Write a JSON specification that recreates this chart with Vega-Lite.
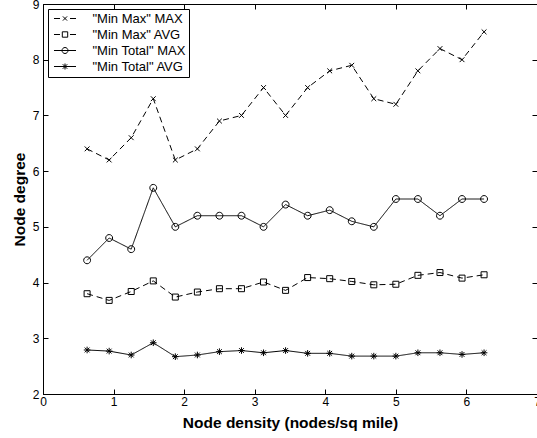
{
  "$schema": "https://vega.github.io/schema/vega-lite/v6.json",
  "width": 494,
  "height": 390,
  "autosize": {"type": "none"},
  "padding": {"left": 43, "top": 4, "right": 0, "bottom": 44},
  "background": "white",
  "config": {
    "font": "Liberation Sans",
    "view": {"stroke": "black", "strokeWidth": 1},
    "axis": {
      "grid": false,
      "domainColor": "black",
      "domainWidth": 1,
      "tickColor": "black",
      "tickWidth": 1,
      "tickSize": -5,
      "labelColor": "black",
      "labelFont": "Liberation Sans",
      "labelFontSize": 12,
      "titleColor": "black",
      "titleFont": "Liberation Sans",
      "titleFontSize": 15.5,
      "titleFontWeight": "bold"
    }
  },
  "data": {
    "values": [
      {"series": "\"Min Max\" MAX", "density": 0.625, "degree": 6.4},
      {"series": "\"Min Max\" MAX", "density": 0.9375, "degree": 6.2},
      {"series": "\"Min Max\" MAX", "density": 1.25, "degree": 6.6},
      {"series": "\"Min Max\" MAX", "density": 1.5625, "degree": 7.3},
      {"series": "\"Min Max\" MAX", "density": 1.875, "degree": 6.2},
      {"series": "\"Min Max\" MAX", "density": 2.1875, "degree": 6.4},
      {"series": "\"Min Max\" MAX", "density": 2.5, "degree": 6.9},
      {"series": "\"Min Max\" MAX", "density": 2.8125, "degree": 7.0},
      {"series": "\"Min Max\" MAX", "density": 3.125, "degree": 7.5},
      {"series": "\"Min Max\" MAX", "density": 3.4375, "degree": 7.0},
      {"series": "\"Min Max\" MAX", "density": 3.75, "degree": 7.5},
      {"series": "\"Min Max\" MAX", "density": 4.0625, "degree": 7.8},
      {"series": "\"Min Max\" MAX", "density": 4.375, "degree": 7.9},
      {"series": "\"Min Max\" MAX", "density": 4.6875, "degree": 7.3},
      {"series": "\"Min Max\" MAX", "density": 5.0, "degree": 7.2},
      {"series": "\"Min Max\" MAX", "density": 5.3125, "degree": 7.8},
      {"series": "\"Min Max\" MAX", "density": 5.625, "degree": 8.2},
      {"series": "\"Min Max\" MAX", "density": 5.9375, "degree": 8.0},
      {"series": "\"Min Max\" MAX", "density": 6.25, "degree": 8.5},
      {"series": "\"Min Max\" AVG", "density": 0.625, "degree": 3.8},
      {"series": "\"Min Max\" AVG", "density": 0.9375, "degree": 3.68},
      {"series": "\"Min Max\" AVG", "density": 1.25, "degree": 3.84},
      {"series": "\"Min Max\" AVG", "density": 1.5625, "degree": 4.03},
      {"series": "\"Min Max\" AVG", "density": 1.875, "degree": 3.74},
      {"series": "\"Min Max\" AVG", "density": 2.1875, "degree": 3.83},
      {"series": "\"Min Max\" AVG", "density": 2.5, "degree": 3.89},
      {"series": "\"Min Max\" AVG", "density": 2.8125, "degree": 3.89},
      {"series": "\"Min Max\" AVG", "density": 3.125, "degree": 4.01},
      {"series": "\"Min Max\" AVG", "density": 3.4375, "degree": 3.86},
      {"series": "\"Min Max\" AVG", "density": 3.75, "degree": 4.09},
      {"series": "\"Min Max\" AVG", "density": 4.0625, "degree": 4.07},
      {"series": "\"Min Max\" AVG", "density": 4.375, "degree": 4.02},
      {"series": "\"Min Max\" AVG", "density": 4.6875, "degree": 3.96},
      {"series": "\"Min Max\" AVG", "density": 5.0, "degree": 3.97},
      {"series": "\"Min Max\" AVG", "density": 5.3125, "degree": 4.13},
      {"series": "\"Min Max\" AVG", "density": 5.625, "degree": 4.18},
      {"series": "\"Min Max\" AVG", "density": 5.9375, "degree": 4.08},
      {"series": "\"Min Max\" AVG", "density": 6.25, "degree": 4.14},
      {"series": "\"Min Total\" MAX", "density": 0.625, "degree": 4.4},
      {"series": "\"Min Total\" MAX", "density": 0.9375, "degree": 4.8},
      {"series": "\"Min Total\" MAX", "density": 1.25, "degree": 4.6},
      {"series": "\"Min Total\" MAX", "density": 1.5625, "degree": 5.7},
      {"series": "\"Min Total\" MAX", "density": 1.875, "degree": 5.0},
      {"series": "\"Min Total\" MAX", "density": 2.1875, "degree": 5.2},
      {"series": "\"Min Total\" MAX", "density": 2.5, "degree": 5.2},
      {"series": "\"Min Total\" MAX", "density": 2.8125, "degree": 5.2},
      {"series": "\"Min Total\" MAX", "density": 3.125, "degree": 5.0},
      {"series": "\"Min Total\" MAX", "density": 3.4375, "degree": 5.4},
      {"series": "\"Min Total\" MAX", "density": 3.75, "degree": 5.2},
      {"series": "\"Min Total\" MAX", "density": 4.0625, "degree": 5.3},
      {"series": "\"Min Total\" MAX", "density": 4.375, "degree": 5.1},
      {"series": "\"Min Total\" MAX", "density": 4.6875, "degree": 5.0},
      {"series": "\"Min Total\" MAX", "density": 5.0, "degree": 5.5},
      {"series": "\"Min Total\" MAX", "density": 5.3125, "degree": 5.5},
      {"series": "\"Min Total\" MAX", "density": 5.625, "degree": 5.2},
      {"series": "\"Min Total\" MAX", "density": 5.9375, "degree": 5.5},
      {"series": "\"Min Total\" MAX", "density": 6.25, "degree": 5.5},
      {"series": "\"Min Total\" AVG", "density": 0.625, "degree": 2.79},
      {"series": "\"Min Total\" AVG", "density": 0.9375, "degree": 2.77},
      {"series": "\"Min Total\" AVG", "density": 1.25, "degree": 2.7},
      {"series": "\"Min Total\" AVG", "density": 1.5625, "degree": 2.92},
      {"series": "\"Min Total\" AVG", "density": 1.875, "degree": 2.67},
      {"series": "\"Min Total\" AVG", "density": 2.1875, "degree": 2.7},
      {"series": "\"Min Total\" AVG", "density": 2.5, "degree": 2.76},
      {"series": "\"Min Total\" AVG", "density": 2.8125, "degree": 2.78},
      {"series": "\"Min Total\" AVG", "density": 3.125, "degree": 2.74},
      {"series": "\"Min Total\" AVG", "density": 3.4375, "degree": 2.78},
      {"series": "\"Min Total\" AVG", "density": 3.75, "degree": 2.73},
      {"series": "\"Min Total\" AVG", "density": 4.0625, "degree": 2.73},
      {"series": "\"Min Total\" AVG", "density": 4.375, "degree": 2.68},
      {"series": "\"Min Total\" AVG", "density": 4.6875, "degree": 2.68},
      {"series": "\"Min Total\" AVG", "density": 5.0, "degree": 2.68},
      {"series": "\"Min Total\" AVG", "density": 5.3125, "degree": 2.74},
      {"series": "\"Min Total\" AVG", "density": 5.625, "degree": 2.74},
      {"series": "\"Min Total\" AVG", "density": 5.9375, "degree": 2.71},
      {"series": "\"Min Total\" AVG", "density": 6.25, "degree": 2.74}
    ]
  },
  "layer": [
    {
      "mark": {"type": "line", "color": "black", "strokeWidth": 1},
      "encoding": {
        "x": {
          "field": "density", "type": "quantitative",
          "scale": {"domain": [0, 7], "nice": false, "zero": false},
          "axis": {"orient": "bottom", "values": [0, 1, 2, 3, 4, 5, 6, 7], "title": "Node density (nodes/sq mile)", "labelPadding": 7, "titlePadding": 8, "labelFlush": false}
        },
        "y": {
          "field": "degree", "type": "quantitative",
          "scale": {"domain": [2, 9], "nice": false, "zero": false},
          "axis": {"orient": "left", "values": [2, 3, 4, 5, 6, 7, 8, 9], "title": "Node degree", "labelPadding": 9, "titlePadding": 5, "labelFlush": false}
        },
        "strokeDash": {
          "field": "series", "type": "nominal",
          "scale": {"domain": ["\"Min Max\" MAX", "\"Min Max\" AVG", "\"Min Total\" MAX", "\"Min Total\" AVG"], "range": [[6, 4], [6, 4], [1, 0], [1, 0]]},
          "legend": null
        }
      }
    },
    {
      "mark": {"type": "point", "filled": false, "stroke": "black", "strokeWidth": 1, "size": 36, "opacity": 1},
      "encoding": {
        "x": {
          "field": "density", "type": "quantitative",
          "scale": {"domain": [0, 7], "nice": false, "zero": false},
          "axis": {"orient": "top", "values": [0, 1, 2, 3, 4, 5, 6, 7], "labels": false, "title": null, "domain": false}
        },
        "y": {
          "field": "degree", "type": "quantitative",
          "scale": {"domain": [2, 9], "nice": false, "zero": false},
          "axis": {"orient": "right", "values": [2, 3, 4, 5, 6, 7, 8, 9], "labels": false, "title": null, "domain": false}
        },
        "shape": {
          "field": "series", "type": "nominal",
          "scale": {
            "domain": ["\"Min Max\" MAX", "\"Min Max\" AVG", "\"Min Total\" MAX", "\"Min Total\" AVG"],
            "range": [
              "M-0.8,-0.8L0.8,0.8M-0.8,0.8L0.8,-0.8",
              "M-1,-1L1,-1L1,1L-1,1Z",
              "M1.15,0A1.15,1.15,0,1,1,-1.15,0A1.15,1.15,0,1,1,1.15,0Z",
              "M0,-1.1L0,1.1M-1.1,0L1.1,0M-0.8,-0.8L0.8,0.8M-0.8,0.8L0.8,-0.8"
            ]
          },
          "legend": null
        }
      }
    },
    {
      "transform": [{"filter": "datum.degree > 100"}],
      "mark": {"type": "point", "filled": false, "stroke": "black", "strokeWidth": 1, "size": 36},
      "encoding": {
        "x": {"field": "density", "type": "quantitative", "scale": {"domain": [0, 7], "nice": false, "zero": false}, "axis": null},
        "y": {"field": "degree", "type": "quantitative", "scale": {"domain": [2, 9], "nice": false, "zero": false}, "axis": null},
        "shape": {
          "field": "series", "type": "nominal",
          "scale": {
            "domain": ["\"Min Max\" MAX", "\"Min Max\" AVG", "\"Min Total\" MAX", "\"Min Total\" AVG"],
            "range": [
              "M-3.67,0L-1.67,0M1.67,0L3.67,0M-0.7,-0.7L0.7,0.7M-0.7,0.7L0.7,-0.7",
              "M-3.67,0L-1.67,0M1.67,0L3.67,0M-0.9,-0.9L0.9,-0.9L0.9,0.9L-0.9,0.9Z",
              "M-3.67,0L3.67,0M1,0A1,1,0,1,1,-1,0A1,1,0,1,1,1,0Z",
              "M-3.67,0L3.67,0M0,-1L0,1M-0.75,-0.75L0.75,0.75M-0.75,0.75L0.75,-0.75"
            ]
          },
          "legend": {
            "title": null,
            "orient": "none",
            "legendX": 5,
            "legendY": 5,
            "strokeColor": "black",
            "fillColor": "white",
            "padding": 3,
            "cornerRadius": 0,
            "labelFont": "Liberation Sans",
            "labelFontSize": 13,
            "labelColor": "black",
            "labelLimit": 300,
            "symbolSize": 36,
            "symbolOffset": 7.5,
            "labelOffset": 21,
            "rowPadding": 2,
            "symbolStrokeColor": "black",
            "symbolStrokeWidth": 1,
            "symbolFillColor": "transparent",
            "symbolOpacity": 1
          }
        }
      }
    }
  ],
  "resolve": {"scale": {"shape": "independent"}, "axis": {"x": "independent", "y": "independent"}}
}
